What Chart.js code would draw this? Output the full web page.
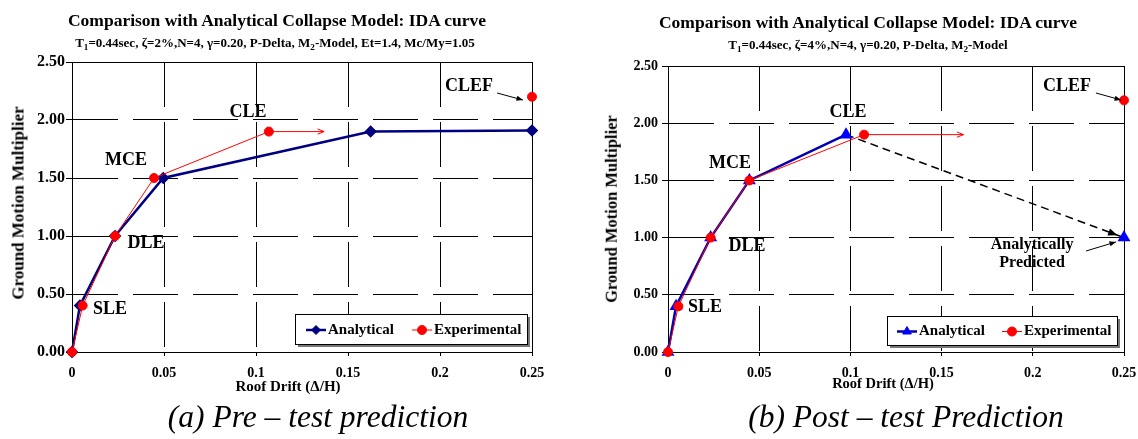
<!DOCTYPE html>
<html>
<head>
<meta charset="utf-8">
<script src="https://cdn.jsdelivr.net/npm/chart.js@4.4.1/dist/chart.umd.min.js"></script>
<style>
  body { margin: 0; background: #fff; width: 1138px; height: 439px; overflow: hidden; position: relative;
         font-family: "Liberation Serif", "Times New Roman", serif; color: #000; }
  canvas { position: absolute; top: 0; }
  .t { position: absolute; white-space: nowrap; line-height: 1; transform: translateX(-50%); font-weight: bold; }
  .rot { position: absolute; white-space: nowrap; line-height: 1; font-weight: bold; transform: translate(-50%, -50%) rotate(-90deg); }
  .cap { position: absolute; white-space: nowrap; line-height: 1; transform: translateX(-50%); font-style: italic; font-size: 31.5px; }
  sub { font-size: 70%; vertical-align: -3px; line-height: 0; }
</style>
</head>
<body>
<canvas id="pre" width="570" height="395" style="left:0"></canvas>
<canvas id="post" width="568" height="395" style="left:570px"></canvas>

<div class="t" style="left:277px; top:12px; font-size:17.5px">Comparison with Analytical Collapse Model: IDA curve</div>
<div class="t" style="left:275px; top:36px; font-size:13px">T<sub>1</sub>=0.44sec, ζ=2%,N=4, γ=0.20, P-Delta, M<sub>2</sub>-Model, Et=1.4, Mc/My=1.05</div>
<div class="t" style="left:868px; top:14px; font-size:17.5px">Comparison with Analytical Collapse Model: IDA curve</div>
<div class="t" style="left:868px; top:38px; font-size:13px">T<sub>1</sub>=0.44sec, ζ=4%,N=4, γ=0.20, P-Delta, M<sub>2</sub>-Model</div>

<div class="rot" style="left:17.5px; top:203px; font-size:17px">Ground Motion Multiplier</div>
<div class="rot" style="left:611.5px; top:209px; font-size:16.5px">Ground Motion Multiplier</div>
<div class="t" style="left:288px; top:379px; font-size:15px">Roof Drift (Δ/H)</div>
<div class="t" style="left:883px; top:376px; font-size:14.5px">Roof Drift (Δ/H)</div>

<div class="cap" style="left:318px; top:401px">(a) Pre – test prediction</div>
<div class="cap" style="left:906px; top:401px">(b) Post – test Prediction</div>

<script>
// axis ticks
const xTicks = [0, 0.05, 0.1, 0.15, 0.2, 0.25];
const xTickLabels = ['0', '0.05', '0.1', '0.15', '0.2', '0.25'];
const yTicks = [0, 0.5, 1, 1.5, 2, 2.5];
const yTickLabels = ['0.00', '0.50', '1.00', '1.50', '2.00', '2.50'];

// (a) pre-test prediction
const preDriftA = [0, 0.0043, 0.0234, 0.0496, 0.1623, 0.25];
const preGmA    = [0, 0.4, 1.0, 1.5, 1.9, 1.91];
const preDriftE = [0, 0.0058, 0.0234, 0.0446, 0.107];
const preGmE    = [0, 0.4, 1.0, 1.5, 1.9];
const preClef   = [0.25, 2.2];
const preCleArrowEnd = 0.137;

// (b) post-test prediction
const postDriftA = [0, 0.0044, 0.0234, 0.0446, 0.0976, 0.25];
const postGmA    = [0, 0.4, 1.0, 1.5, 1.9, 1.0];
const postDriftE = [0, 0.0057, 0.0234, 0.0446, 0.1075];
const postGmE    = [0, 0.4, 1.0, 1.5, 1.9];
const postClef   = [0.25, 2.2];
const postCleArrowEnd = 0.162;

const FONT = "'Liberation Serif', 'Times New Roman', serif";
const pts = (xs, ys) => xs.map((x, i) => ({ x: x, y: ys[i] }));
const crisp = p => Math.round(p - 0.5) + 0.5;

function arrow(ctx, x1, y1, x2, y2, o) {
  const a = Math.atan2(y2 - y1, x2 - x1), h = o.head || 7;
  ctx.save();
  ctx.strokeStyle = o.color; ctx.fillStyle = o.color; ctx.lineWidth = o.width || 1;
  if (!o.headOnly) { ctx.beginPath(); ctx.moveTo(x1, y1); ctx.lineTo(x2, y2); ctx.stroke(); }
  ctx.beginPath();
  ctx.moveTo(x2 - h * Math.cos(a - 0.38), y2 - h * Math.sin(a - 0.38));
  ctx.lineTo(x2, y2);
  ctx.lineTo(x2 - h * Math.cos(a + 0.38), y2 - h * Math.sin(a + 0.38));
  if (o.open) ctx.stroke(); else { ctx.closePath(); ctx.fill(); }
  ctx.restore();
}

const frameAndNotes = {
  id: 'notes',
  beforeDatasetsDraw(chart) {
    const { ctx, chartArea: c } = chart;
    const l = crisp(c.left), r = crisp(c.right), t = crisp(c.top), b = crisp(c.bottom);
    ctx.save();
    ctx.strokeStyle = '#000'; ctx.lineWidth = 1;
    ctx.beginPath();
    ctx.moveTo(l, t); ctx.lineTo(r, t); ctx.lineTo(r, b); ctx.lineTo(l, b); ctx.closePath();
    ctx.stroke();
    ctx.restore();
  },
  afterDatasetsDraw(chart, args, opts) {
    const { ctx } = chart, sx = chart.scales.x, sy = chart.scales.y;
    const px = p => [sx.getPixelForValue(p[0]), sy.getPixelForValue(p[1])];
    ctx.save();
    ctx.fillStyle = '#000'; ctx.textAlign = 'center'; ctx.textBaseline = 'middle';
    (opts.labels || []).forEach(l => {
      ctx.font = 'bold ' + (l.size || 18) + 'px ' + FONT;
      const p = px([l.x, l.y]);
      ctx.fillText(l.t, p[0], p[1]);
    });
    ctx.restore();
    (opts.arrows || []).forEach(a => {
      const p1 = px(a.from), p2 = px(a.to);
      arrow(ctx, p1[0], p1[1], p2[0], p2[1], a);
    });
    if (opts.dashHead) {
      const p1 = px(opts.dashHead[0]), p2 = px(opts.dashHead[1]);
      const d = Math.hypot(p2[0] - p1[0], p2[1] - p1[1]), back = 7;
      const tx = p2[0] - (p2[0] - p1[0]) * back / d, ty = p2[1] - (p2[1] - p1[1]) * back / d;
      arrow(ctx, p1[0], p1[1], tx, ty, { color: '#000', headOnly: true, head: 10 });
    }
    // legend box with shadow
    const L = opts.legend, c = chart.chartArea;
    const bx = Math.round(c.right - L.inset - L.w), by = Math.round(c.bottom - L.insetB - L.h);
    ctx.save();
    ctx.fillStyle = '#777';
    ctx.fillRect(bx + 3, by + 3, L.w, L.h);
    ctx.fillStyle = '#fff';
    ctx.fillRect(bx, by, L.w, L.h);
    ctx.strokeStyle = '#000'; ctx.lineWidth = 1;
    ctx.strokeRect(bx + 0.5, by + 0.5, L.w, L.h);
    ctx.font = 'bold 15px ' + FONT; ctx.textBaseline = 'middle'; ctx.textAlign = 'left';
    const cy = by + L.h / 2 + 1;
    L.items.forEach(it => {
      const ds = chart.data.datasets[it.ds];
      const x0 = bx + it.off;
      ctx.strokeStyle = ds.borderColor; ctx.lineWidth = ds.borderWidth;
      ctx.beginPath(); ctx.moveTo(x0, cy); ctx.lineTo(x0 + 20, cy); ctx.stroke();
      ctx.fillStyle = ds.pointBackgroundColor; ctx.strokeStyle = ds.pointBorderColor; ctx.lineWidth = 1;
      Chart.helpers.drawPoint(ctx, { pointStyle: ds.pointStyle, radius: ds.pointRadius, borderWidth: 1, rotation: 0 }, x0 + 10, cy);
      ctx.fillStyle = '#000';
      ctx.fillText(it.text, x0 + 22, cy);
    });
    ctx.restore();
  }
};

function makeChart(id, datasets, notes, yw, padR, padT, yFont, yPad) {
  return new Chart(document.getElementById(id), {
    type: 'line',
    data: { datasets: datasets },
    options: {
      responsive: false, animation: false, devicePixelRatio: 1,
      layout: { padding: { left: 0, right: padR, top: padT, bottom: 0 } },
      plugins: { legend: { display: false }, tooltip: { enabled: false }, notes: notes },
      scales: {
        x: {
          type: 'linear', min: 0, max: 0.25,
          afterBuildTicks: s => { s.ticks = xTicks.map(v => ({ value: v })); },
          afterFit: s => { s.height = 43; s.paddingLeft = 0; s.paddingRight = 0; },
          ticks: { callback: (v, i) => xTickLabels[i], color: '#000', padding: 9, maxRotation: 0, autoSkip: false,
                   font: { family: FONT, size: 14, weight: 'bold' } },
          grid: { color: '#000', lineWidth: 1, tickLength: 4, tickColor: '#000' },
          border: { color: '#000', width: 1, dash: [45, 15] }
        },
        y: {
          type: 'linear', min: 0, max: 2.5,
          afterBuildTicks: s => { s.ticks = yTicks.map(v => ({ value: v })); },
          afterFit: s => { s.width = yw; s.paddingTop = 0; s.paddingBottom = 0; },
          ticks: { callback: (v, i) => yTickLabels[i], color: '#000', padding: yPad, autoSkip: false,
                   font: { family: FONT, size: yFont, weight: 'bold' } },
          grid: { color: '#000', lineWidth: 1, tickLength: 6, tickColor: '#000' },
          border: { color: '#000', width: 1, dash: [45, 15] }
        }
      }
    },
    plugins: [frameAndNotes]
  });
}

const red = '#FF0000';
const expStyle = { borderColor: red, borderWidth: 1, pointStyle: 'circle', pointRadius: 4.5,
                   pointBackgroundColor: red, pointBorderColor: red, clip: false, order: 0 };

makeChart('pre', [
  { label: 'Analytical', data: pts(preDriftA, preGmA), borderColor: '#000080', borderWidth: 2.5,
    pointStyle: 'rectRot', pointRadius: 4.5, pointBackgroundColor: '#000080', pointBorderColor: '#000080', clip: false, order: 1 },
  Object.assign({ label: 'Experimental', data: pts(preDriftE, preGmE) }, expStyle),
  Object.assign({ label: 'CLEF', data: [{ x: preClef[0], y: preClef[1] }], showLine: false }, expStyle)
], {
  labels: [
    { t: 'CLE', x: 0.0957, y: 2.069 }, { t: 'MCE', x: 0.0293, y: 1.655 }, { t: 'DLE', x: 0.0402, y: 0.94 },
    { t: 'SLE', x: 0.0207, y: 0.371 }, { t: 'CLEF', x: 0.2158, y: 2.293 }
  ],
  arrows: [
    { from: [preDriftE[4], preGmE[4]], to: [preCleArrowEnd, preGmE[4]], color: red, open: true, head: 7 },
    { from: [0.231, 2.233], to: [0.2451, 2.172], color: '#000', head: 7 }
  ],
  legend: { w: 232, h: 30, inset: 5, insetB: 8,
            items: [{ ds: 0, off: 11, text: 'Analytical' }, { ds: 1, off: 117, text: 'Experimental' }] }
}, 72, 38, 62, 16, 1);

makeChart('post', [
  { label: 'Analytical', data: pts(postDriftA, postGmA), borderColor: '#0000B0', borderWidth: 2.5,
    pointStyle: 'triangle', pointRadius: 5, pointBackgroundColor: '#0000FF', pointBorderColor: '#0000FF', clip: false, order: 1,
    segment: {
      borderColor: c => c.p1DataIndex === postDriftA.length - 1 ? '#000' : undefined,
      borderDash: c => c.p1DataIndex === postDriftA.length - 1 ? [8, 5] : undefined,
      borderWidth: c => c.p1DataIndex === postDriftA.length - 1 ? 1.5 : undefined
    } },
  Object.assign({ label: 'Experimental', data: pts(postDriftE, postGmE) }, expStyle),
  Object.assign({ label: 'CLEF', data: [{ x: postClef[0], y: postClef[1] }], showLine: false }, expStyle)
], {
  labels: [
    { t: 'CLE', x: 0.0987, y: 2.098 }, { t: 'MCE', x: 0.034, y: 1.652 }, { t: 'DLE', x: 0.0433, y: 0.927 },
    { t: 'SLE', x: 0.0203, y: 0.393 }, { t: 'CLEF', x: 0.2188, y: 2.325 },
    { t: 'Analytically', x: 0.1996, y: 0.935, size: 16 }, { t: 'Predicted', x: 0.1996, y: 0.778, size: 16 }
  ],
  arrows: [
    { from: [postDriftE[4], postGmE[4]], to: [postCleArrowEnd, postGmE[4]], color: red, open: true, head: 7 },
    { from: [0.2346, 2.264], to: [0.2484, 2.203], color: '#000', head: 7 },
    { from: [0.2292, 0.883], to: [0.2456, 0.962], color: '#000', head: 7 }
  ],
  dashHead: [[postDriftA[4], postGmA[4]], [postDriftA[5], postGmA[5]]],
  legend: { w: 230, h: 29, inset: 7, insetB: 7,
            items: [{ ds: 0, off: 10, text: 'Analytical' }, { ds: 1, off: 115, text: 'Experimental' }] }
}, 98, 14, 66, 14, 4);
</script>
</body>
</html>
